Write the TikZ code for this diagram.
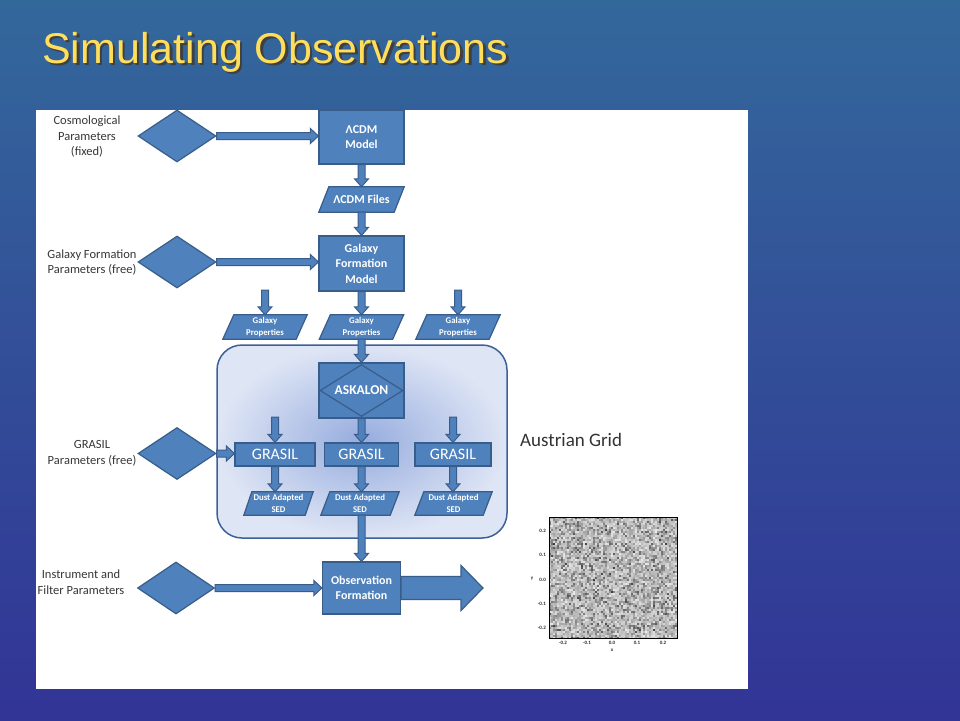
\documentclass[tikz,border=0pt]{standalone}
\usepackage{fontspec}
\setmainfont{Carlito}
\newfontfamily\titlefont{Liberation Sans}
\usetikzlibrary{calc,shapes.geometric,backgrounds}
\definecolor{boxfill}{RGB}{79,129,189}
\definecolor{boxline}{RGB}{56,93,138}
\definecolor{slidetop}{RGB}{51,104,155}
\definecolor{slidebot}{RGB}{50,52,150}
\definecolor{titleyel}{RGB}{255,222,92}
\definecolor{labgray}{RGB}{55,55,55}
\definecolor{contin}{RGB}{150,172,222}
\definecolor{contout}{RGB}{222,229,245}
\definecolor{contline}{RGB}{62,96,152}
\tikzset{
  box/.style={draw=boxline, fill=boxfill, line width=1.2pt, text=white, align=center, inner sep=0pt},
  boxfont/.style={font=\fontsize{12}{15.5}\selectfont\bfseries},
  paratext/.style={text=white, align=center, inner sep=0pt, minimum height=24pt},
  paraback/.style={draw=boxline, fill=boxfill, line width=1.2pt, line join=miter},
  dia/.style={diamond, draw=boxline, fill=boxfill, line width=1.2pt, inner sep=0pt, minimum width=78pt, minimum height=52pt},
  blk/.style={draw=boxline, fill=boxfill, line width=1pt, line join=miter},
  lab/.style={text=labgray, font=\fontsize{12.5}{15.5}\selectfont, align=center, inner sep=0pt},
  grasilbox/.style={box, minimum height=23pt, font=\fontsize{16}{18}\selectfont},
  tiny/.style={font=\fontsize{5}{5}\selectfont\bfseries, text=black!85, inner sep=0pt},
  gpfont/.style={font=\fontsize{8.8}{11.5}\selectfont\bfseries},
}
\newcommand\downarr[2]{\filldraw[blk] ($(#1)+(-3.5,0)$) -- ($(#2)+(-3.5,-8)$) -- ($(#2)+(-7,-8)$) -- (#2) -- ($(#2)+(7,-8)$) -- ($(#2)+(3.5,-8)$) -- ($(#1)+(3.5,0)$) -- cycle;}
\newcommand\rightarr[2]{\filldraw[blk] ($(#1)+(0,-3.5)$) -- ($(#2)+(-8,-3.5)$) -- ($(#2)+(-8,-7.5)$) -- (#2) -- ($(#2)+(-8,7.5)$) -- ($(#2)+(-8,3.5)$) -- ($(#1)+(0,3.5)$) -- cycle;}
\newcommand\bigarr[2]{\filldraw[blk, line width=1.2pt] ($(#1)+(0,-11.5)$) -- ($(#2)+(-22,-11.5)$) -- ($(#2)+(-22,-22.5)$) -- (#2) -- ($(#2)+(-22,22.5)$) -- ($(#2)+(-22,11.5)$) -- ($(#1)+(0,11.5)$) -- cycle;}
\newcommand\drawpara[2]{\begin{scope}[on background layer]\filldraw[paraback] (#1.south west) -- ($(#1.south east)+(-#2,0)$) -- (#1.north east) -- ($(#1.north west)+(#2,0)$) -- cycle;\end{scope}}
\newcommand\titletext{Simulating Observations}
\begin{document}
\begin{tikzpicture}[x=1pt,y=-1pt]
\useasboundingbox (0,0) rectangle (960,720);
\begin{scope}[on background layer]
  \shade[top color=slidetop, bottom color=slidebot] (0,0) rectangle (960,720);
  \fill[white] (36,110) rectangle (748,689);
  \node[draw=contline, line width=1.5pt, rounded corners=25pt, inner color=contin, outer color=contout,
        minimum width=290pt, minimum height=193pt, inner sep=0pt] (grid) at (362,441.5) {};
\end{scope}

% title with drop shadow (one node)
\node[anchor=base west, inner sep=0pt, text=titleyel, font=\titlefont\fontsize{43}{50}\selectfont] (title) at (42,63)
  {\rlap{\hspace{2.5pt}\raisebox{-2.5pt}{\textcolor{black!75}{\titletext}}}\titletext};

% left labels
\node[lab] (l1) at (87,137) {Cosmological\\Parameters\\(fixed)};
\node[lab] (l2) at (92,262.5) {Galaxy Formation\\Parameters (free)};
\node[lab] (l3) at (92,453.5) {GRASIL\\Parameters (free)};
\node[lab] (l4) at (81,582) {Instrument and\\Filter Parameters};

% diamonds
\node[dia] (d1) at (177,136) {};
\node[dia] (d2) at (177,262) {};
\node[dia] (d3) at (177,453.5) {};
\node[dia, minimum width=77pt] (d4) at (176,588) {};

% main column
\node[box, boxfont, minimum width=85pt, minimum height=54pt] (acdm) at (361.5,137) {ΛCDM\\Model};
\node[paratext, boxfont, minimum width=85pt, minimum height=25pt] (files) at (361.5,199.5) {ΛCDM Files};
\drawpara{files}{10}
\node[box, boxfont, minimum width=85pt, minimum height=55pt] (gfm) at (361.5,263.5) {Galaxy\\Formation\\Model};

% galaxy properties
\node[paratext, gpfont, minimum width=84pt] (gp1) at (265,327) {Galaxy\\Properties};
\node[paratext, gpfont, minimum width=84pt] (gp2) at (361.5,327) {Galaxy\\Properties};
\node[paratext, gpfont, minimum width=84pt] (gp3) at (458,327) {Galaxy\\Properties};
\drawpara{gp1}{11}
\drawpara{gp2}{11}
\drawpara{gp3}{11}

% askalon
\node[box, minimum width=85pt, minimum height=55pt] (askalon) at (361.5,390.5) {};
\node[diamond, draw=boxline, line width=1.2pt, inner sep=0pt, minimum width=83pt, minimum height=52pt] (askd) at (askalon.center) {};
\node[text=white, font=\fontsize{13.5}{15}\selectfont\bfseries, inner sep=0pt] (asktext) at (askalon.center) {ASKALON};

% grasil
\node[grasilbox, minimum width=80pt] (g1) at (275,454.5) {GRASIL};
\node[grasilbox, minimum width=74pt] (g2) at (361.5,454.5) {GRASIL};
\node[grasilbox, minimum width=76pt] (g3) at (453,454.5) {GRASIL};

% SEDs
\node[paratext, gpfont, minimum width=69pt, minimum height=23pt] (s1) at (278.5,503.5) {Dust Adapted\\SED};
\node[paratext, gpfont, minimum width=78pt, minimum height=23pt] (s2) at (360,503.5) {Dust Adapted\\SED};
\node[paratext, gpfont, minimum width=77pt, minimum height=23pt] (s3) at (453.5,503.5) {Dust Adapted\\SED};
\drawpara{s1}{8}
\drawpara{s2}{9}
\drawpara{s3}{9}

% observation
\node[box, boxfont, minimum width=78pt, minimum height=52pt] (obs) at (361.5,588) {Observation\\Formation};

% coordinates for connectors
\coordinate (t1) at (d1.east -| acdm.west);
\coordinate (t2) at (d2.east -| gfm.west);
\coordinate (t3) at (d3.east -| g1.west);
\coordinate (t4) at (d4.east -| obs.west);
\coordinate (gp1in) at (265,290);
\coordinate (gp3in) at (458,290);
\coordinate (g1in) at (275,417);
\coordinate (g3in) at (453,417);
\coordinate (s1t) at (g1.south |- s1.north);
\coordinate (s2t) at (g2.south |- s2.north);
\coordinate (s3t) at (g3.south |- s3.north);
\coordinate (s2b) at (g2.south |- s2.south);
\coordinate (outtip) at (483,588);

% connectors
\rightarr{d1.east}{t1}
\rightarr{d2.east}{t2}
\rightarr{d3.east}{t3}
\rightarr{d4.east}{t4}
\downarr{acdm.south}{files.north}
\downarr{files.south}{gfm.north}
\downarr{gp1in}{gp1.north}
\downarr{gfm.south}{gp2.north}
\downarr{gp3in}{gp3.north}
\downarr{gp2.south}{askalon.north}
\downarr{askalon.south}{g2.north}
\downarr{g1in}{g1.north}
\downarr{g3in}{g3.north}
\downarr{g1.south}{s1t}
\downarr{g2.south}{s2t}
\downarr{g3.south}{s3t}
\downarr{s2b}{obs.north}
\bigarr{obs.east}{outtip}

% Austrian Grid
\node[anchor=west, inner sep=0pt, text=black!80, font=\fontsize{19}{22}\selectfont] (ag) at (520,440) {Austrian Grid};

% noise map
\pgfmathsetseed{4711}
\foreach \i in {0,...,63}{%
  \foreach \j in {0,...,60}{%
    \pgfmathsetmacro\g{int(8+58*rnd*rnd+16*rnd)}%
    \fill[black!\g] (549+\i*2,517+\j*2) rectangle ++(2.1,2.1);
  }%
}
\node[draw=black, line width=0.8pt, minimum width=128pt, minimum height=121pt, inner sep=0pt] (map) at (613,577.5) {};
\node[tiny, anchor=east] (y1) at (546,531) {0.2};
\node[tiny, anchor=east] (y2) at (546,555) {0.1};
\node[tiny, anchor=east] (y3) at (546,580) {0.0};
\node[tiny, anchor=east] (y4) at (546,604) {-0.1};
\node[tiny, anchor=east] (y5) at (546,628) {-0.2};
\node[tiny] (ylab) at (532,579) {y};
\node[tiny] (x1) at (563,643) {-0.2};
\node[tiny] (x2) at (587,643) {-0.1};
\node[tiny] (x3) at (612,643) {0.0};
\node[tiny] (x4) at (637,643) {0.1};
\node[tiny] (x5) at (663,643) {0.2};
\node[tiny] (xlab) at (612,650) {x};
\end{tikzpicture}
\end{document}
